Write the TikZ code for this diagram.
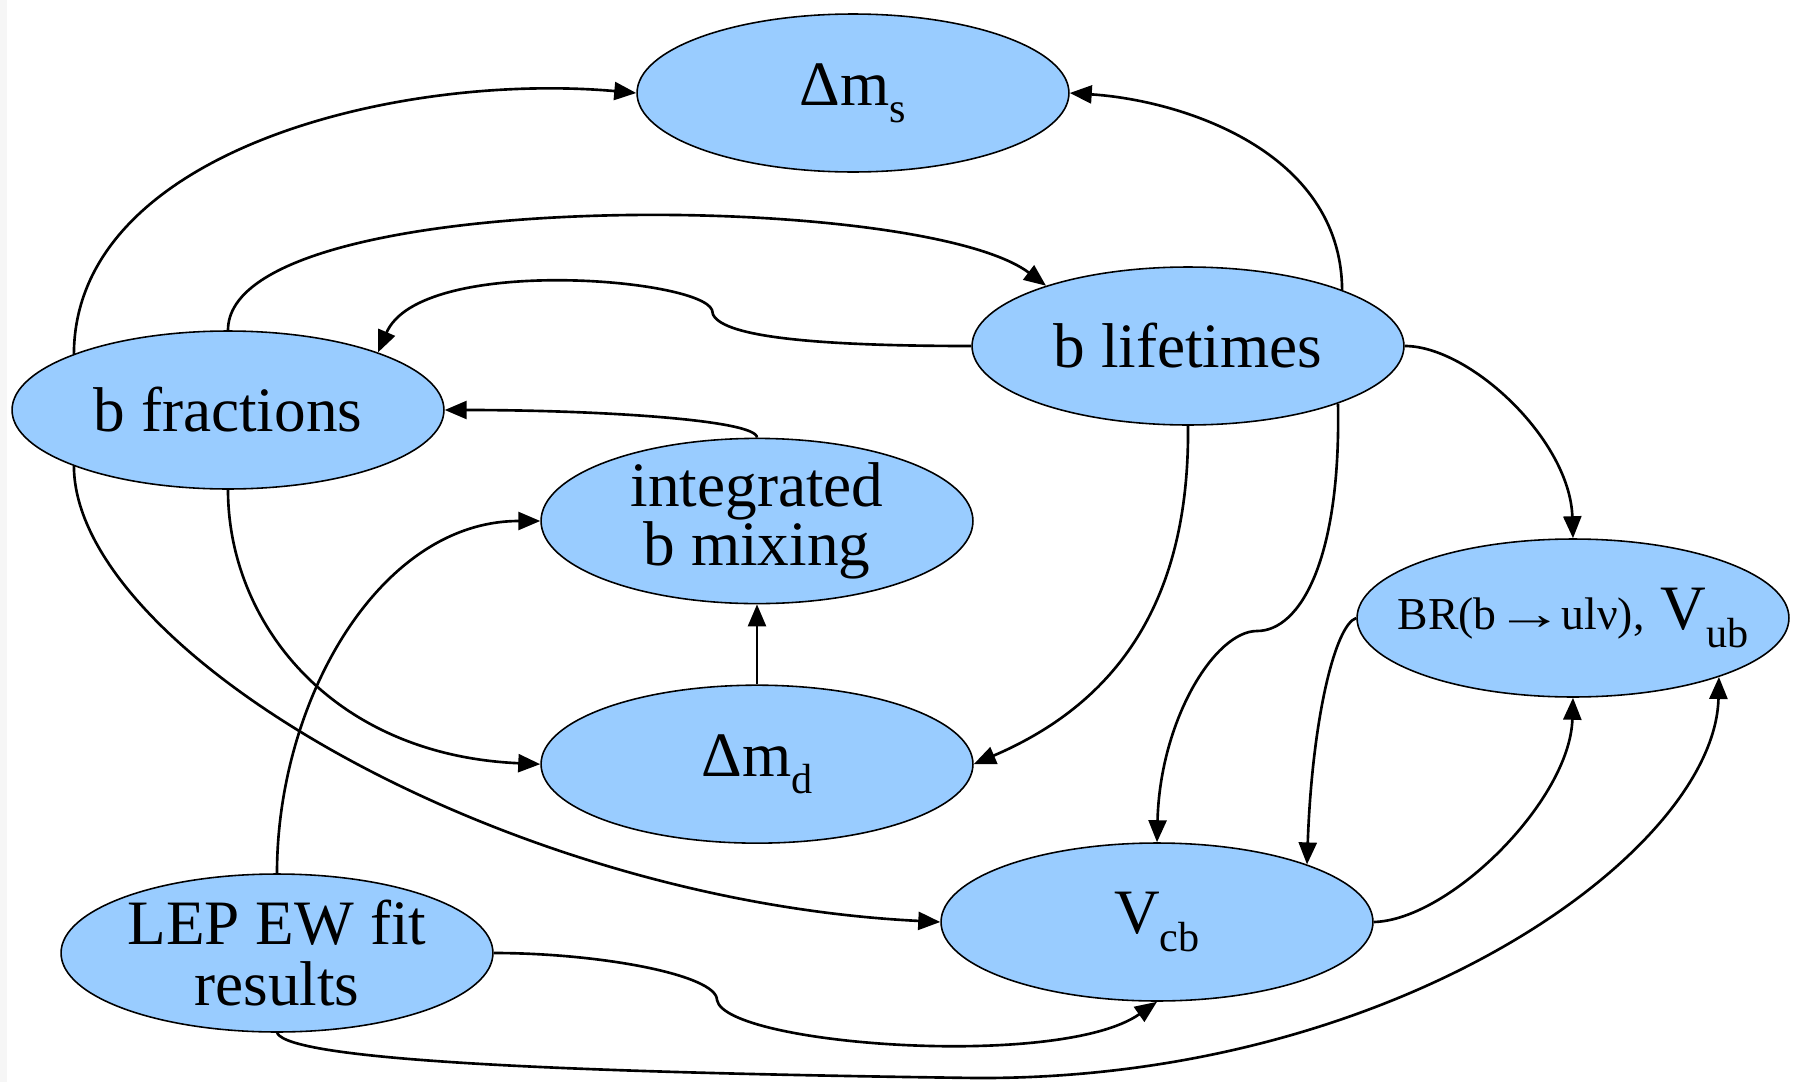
\documentclass[tikz,border=0pt]{standalone}
\usepackage{fontspec}
\setmainfont{Liberation Serif}
\usepackage{graphicx}
\usepackage{tikz}
\usetikzlibrary{shapes.geometric, arrows.meta, positioning}
\newcommand{\lsub}[1]{\raisebox{-0.27em}{\fontsize{24}{24}\selectfont #1}}
\definecolor{qblue}{RGB}{153,204,255}
\tikzset{
  quant/.style={ellipse, draw=black, line width=0.9pt, fill=qblue,
    minimum width=8.64cm, minimum height=3.16cm, inner sep=0pt,
    align=center, font=\fontsize{36}{32}\selectfont},
  link/.style={line width=1.5pt, -{Triangle[length=0.44cm, width=0.36cm]}}
}

\begin{document}
\begin{tikzpicture}[x=0.02cm, y=-0.02cm]
    \useasboundingbox (0,0) rectangle (1800,1082);
    \fill[gray!7] (0,0) rectangle (7,1082);

    \node[quant] at (853,93) (dms) {Δm\lsub{s}};
    \node[quant] at (1188,346) (blife) {b lifetimes};
    \node[quant] at (228,410) (bfrac) {b fractions};
    \node[quant] at (757,521) (mix) {integrated\\b mixing};
    \node[quant, below=1.6cm of mix] (dmd) {Δm\lsub{d}};
    \node[quant] at (1573,618) (brub) {\makebox[0pt]{{\fontsize{26}{26}\selectfont BR(b\kern-1pt\scalebox{1.5}[1]{→}\kern-1pt ulν),} V\lsub{ub}}};
    \node[quant] at (1157,922) (vcb) {V\lsub{cb}};
    \node[quant, font=\fontsize{36}{35}\selectfont] at (277,953) (lep) {LEP EW fit\\results};

    % Connect the nodes
    \draw[link] (bfrac.160) .. controls (75,150) and (400,72) .. (dms.west) ; %
    \draw[link] (blife.20) .. controls (1341,150) and (1180,100) .. (dms.east) ; %
    \draw[link] (bfrac.north) .. controls (228,185) and (920,190) .. (blife.157) ; %
    \draw[link] (blife.west) .. controls (800,346) and (712,335) .. (712,310)
        .. controls (700,278) and (420,255) .. (bfrac.21) ; %
    \draw[link] (mix.north) .. controls (757,420) and (600,410) .. (bfrac.east) ; %
    \draw[link] (dmd.north) -- (mix.south) ; %
    \draw[link] (bfrac.south) .. controls (228,621) and (330,755) .. (dmd.west) ; %
    \draw[link] (blife.south) .. controls (1190,620) and (1100,710) .. (dmd.east) ; %
    \draw[link] (bfrac.200) .. controls (75,650) and (500,900) .. (vcb.west) ; %
    \draw[link] (lep.north) .. controls (277,700) and (380,521) .. (mix.west) ; %
    \draw[link] (lep.east) .. controls (600,953) and (717,975) .. (717,1000)
        .. controls (725,1045) and (1060,1070) .. (vcb.south) ; %
    \draw[link] (lep.south) .. controls (290,1062) and (600,1073) .. (976,1078)
        .. controls (1400,1080) and (1715,850) .. (brub.338) ; %
    \draw[link] (blife.339) .. controls (1341,560) and (1300,631) .. (1257,631)
        .. controls (1215,631) and (1160,720) .. (vcb.north) ; %
    \draw[link] (brub.west) .. controls (1335,625) and (1312,720) .. (vcb.21) ; %
    \draw[link] (vcb.east) .. controls (1450,920) and (1570,800) .. (brub.south) ; %
    \draw[link] (blife.east) .. controls (1470,346) and (1570,440) .. (brub.north) ; %
\end{tikzpicture}
\end{document}
